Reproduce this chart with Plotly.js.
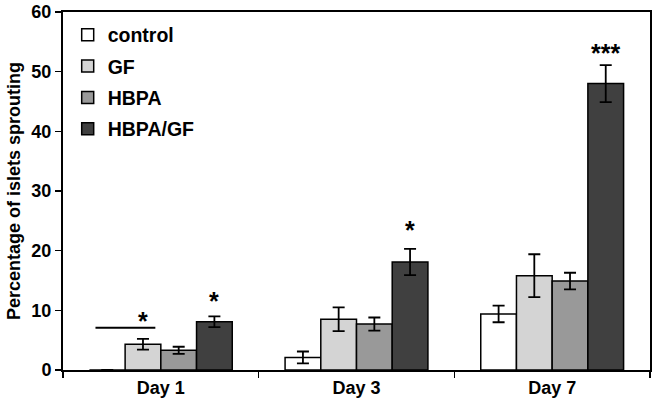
<!DOCTYPE html>
<html>
<head>
<meta charset="utf-8">
<script src="https://cdn.plot.ly/plotly-3.0.1.min.js"></script>
<style>html,body{margin:0;padding:0;background:#fff;}#chart{width:657px;height:407px;}</style>
</head>
<body>
<div id="chart"></div>
<script>
const categories = ['Day 1', 'Day 3', 'Day 7'];
const seriesNames = ['control', 'GF', 'HBPA', 'HBPA/GF'];
const control = [0, 2.1, 9.4];
const controlErr = [0, 1.0, 1.4];
const gf = [4.3, 8.5, 15.8];
const gfErr = [0.9, 2.0, 3.6];
const hbpa = [3.3, 7.7, 14.9];
const hbpaErr = [0.6, 1.1, 1.4];
const hbpagf = [8.1, 18.1, 48.0];
const hbpagfErr = [0.9, 2.2, 3.1];
const colors = ['#ffffff', '#d4d4d4', '#999999', '#404040'];
const yTicks = [0, 10, 20, 30, 40, 50, 60];
// significance marks: [category index, series index, label, y value]
const sigCat = [0, 0, 1, 2];
const sigSeries = [1, 3, 3, 3];
const sigLabels = ['*', '*', '*', '***'];
const sigY = [8.2, 11.6, 23.5, 53.2];
// bracket line over control..GF on Day 1
const lineY = 7.1;

const values = [control, gf, hbpa, hbpagf];
const errs = [controlErr, gfErr, hbpaErr, hbpagfErr];
const bargap = 0.27;
const font = {family: 'Liberation Sans, Arial, sans-serif', color: '#000', weight: 'bold'};

const traces = seriesNames.map((n, i) => ({
  type: 'bar', name: n, x: categories, y: values[i],
  legendgroup: n,
  marker: {color: colors[i], line: {color: '#000', width: 1.5}},
  error_y: {type: 'data', array: errs[i], visible: true, color: '#000', thickness: 1.8, width: 6}
}));

const bw = (1 - bargap) / seriesNames.length;
const annotations = sigLabels.map((t, k) => ({
  x: sigCat[k] + (-(1 - bargap) / 2 + bw * (sigSeries[k] + 0.5)),
  y: sigY[k], xref: 'x', yref: 'y', text: t, showarrow: false,
  font: Object.assign({}, font, {size: 25})
}));

const layout = {
  width: 657, height: 407,
  margin: {l: 63, r: 7, t: 12, b: 37},
  paper_bgcolor: '#fff', plot_bgcolor: '#fff',
  barmode: 'group', bargap: bargap, bargroupgap: 0,
  showlegend: true,
  legend: {x: 0.008, y: 0.99, xanchor: 'left', yanchor: 'top', bgcolor: 'rgba(0,0,0,0)',
    font: Object.assign({}, font, {size: 19.5}), tracegroupgap: 3, traceorder: 'grouped'},
  xaxis: {type: 'category', showline: true, linecolor: '#000', linewidth: 2, mirror: true,
    ticks: 'outside', tickson: 'boundaries', ticklen: 6, tickwidth: 1.5, tickcolor: '#000',
    showgrid: false, zeroline: false, tickfont: Object.assign({}, font, {size: 18})},
  yaxis: {range: [0, 60], tickvals: yTicks, showline: true, linecolor: '#000', linewidth: 2, mirror: true,
    ticks: 'outside', ticklen: 6, tickwidth: 1.5, tickcolor: '#000', showgrid: false, zeroline: false,
    tickfont: Object.assign({}, font, {size: 18}),
    title: {text: 'Percentage of islets sprouting', font: Object.assign({}, font, {size: 18}), standoff: 6}},
  annotations: annotations,
  shapes: [{type: 'line', xref: 'x', yref: 'y', x0: -0.334, x1: -0.028, y0: lineY, y1: lineY,
    line: {color: '#000', width: 2}}]
};

Plotly.newPlot('chart', traces, layout, {staticPlot: true, displayModeBar: false});
</script>
</body>
</html>
